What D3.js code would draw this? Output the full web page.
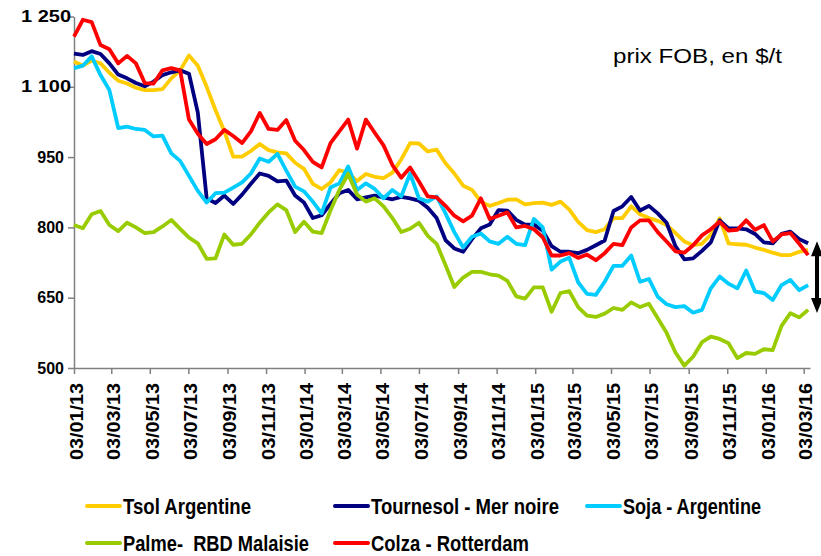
<!DOCTYPE html>
<meta charset="utf-8">
<script src="https://cdn.jsdelivr.net/npm/d3@7"></script>
<style>
body { margin: 0; background: #fff; }
svg { display: block; }
text { font-family: "Liberation Sans", Arial, sans-serif; fill: #000; }
.axis path, .axis line { stroke: #808080; stroke-width: 1.5px; }
.axis text { font-weight: bold; }
path.serie { fill: none; stroke-width: 3.8px; stroke-linejoin: round; }
.legend text { font-weight: bold; font-size: 22px; }
</style>
<body>
<script>

// date of the first point, then one point every 2 weeks
var startDate = "03/01/13";
var stepDays = 14;

var tickLabels = ["03/01/13","03/03/13","03/05/13","03/07/13","03/09/13","03/11/13",
                  "03/01/14","03/03/14","03/05/14","03/07/14","03/09/14","03/11/14",
                  "03/01/15","03/03/15","03/05/15","03/07/15","03/09/15","03/11/15",
                  "03/01/16","03/03/16"];
var yTicks = [500, 650, 800, 950, 1100, 1250];

var tsol = [1154,1145,1156,1150,1130,1113,1107,1098,1093,1093,
            1095,1118,1135,1167,1145,1100,1050,1005,951,951,
            963,978,965,960,958,938,925,893,882,896,
            922,917,899,914,908,905,917,945,980,979,
            962,966,937,915,889,880,855,846,852,859,
            860,849,852,853,848,855,838,812,794,790,
            796,820,820,845,828,820,814,805,788,770,
            762,765,785,819,766,764,763,757,752,746,
            741,741,748,752];

var tournesol = [1171,1168,1176,1170,1150,1126,1118,1108,1101,1111,
                 1125,1131,1135,1128,1045,862,852,868,850,870,
                 893,915,910,898,900,868,853,820,826,850,
                 873,880,860,864,868,864,860,865,862,857,
                 842,820,773,755,748,775,798,806,837,836,
                 816,806,806,793,760,748,748,745,752,762,
                 772,835,845,865,836,846,830,810,760,732,
                 734,750,768,815,798,798,796,786,768,766,
                 786,791,775,766];

var soja = [1140,1145,1165,1125,1093,1012,1015,1010,1008,994,
            996,958,942,910,878,853,873,874,885,896,
            915,947,940,957,921,887,877,855,830,885,
            894,930,880,894,882,862,880,866,915,862,
            855,866,830,790,757,780,787,770,765,780,
            765,762,818,800,710,727,735,683,658,656,
            684,718,718,740,684,690,652,636,630,632,
            618,624,670,695,680,670,708,663,660,645,
            677,688,666,677];

var palme = [805,798,828,835,805,792,810,800,788,790,
             802,816,797,778,766,733,734,785,763,765,
             785,810,832,849,837,790,812,791,788,836,
             880,914,870,855,862,845,820,790,797,810,
             782,765,720,673,693,705,705,700,697,686,
             653,648,672,672,620,660,664,630,612,609,
             616,628,624,640,630,637,606,575,533,505,
             524,555,567,562,553,521,532,530,540,538,
             590,617,608,624];

var colza = [1207,1243,1238,1189,1180,1150,1166,1150,1108,1107,
             1135,1140,1135,1030,1000,978,988,1008,995,980,
             1005,1044,1010,1008,1029,985,965,940,928,980,
             1005,1030,968,1030,1002,975,933,906,928,898,
             866,864,846,825,813,825,862,818,825,832,
             800,803,796,779,740,740,745,735,742,730,
             745,765,762,800,815,815,790,770,749,746,
             762,783,796,812,793,795,815,795,805,770,
             785,788,765,741];

var seriesNames = ["Tsol Argentine", "Tournesol - Mer noire", "Soja - Argentine",
                   "Palme-\u00a0 RBD Malaisie", "Colza - Rotterdam"];
var seriesColors = ["#FFCC00", "#000080", "#00CCFF", "#99CC00", "#FF0000"];
var seriesValues = [tsol, tournesol, soja, palme, colza];

var width = 821,
    height = 556;

var parseDate = d3.timeParse("%d/%m/%y");
var t0 = parseDate(startDate);
var dates = tsol.map(function(d, i) { return d3.timeDay.offset(t0, i * stepDays); });

var x = d3.scaleTime()
    .domain([t0, d3.timeDay.offset(parseDate(tickLabels[tickLabels.length - 1]), 10)])
    .range([74, 810]);

var y = d3.scaleLinear()
    .domain([500, 1250])
    .range([368, 16.5]);

var svg = d3.select("body").append("svg")
    .attr("width", width)
    .attr("height", height);

// axes
var yAxis = svg.append("g")
    .attr("class", "axis")
    .attr("transform", "translate(74,0)")
    .call(d3.axisLeft(y)
        .tickValues(yTicks)
        .tickSize(6)
        .tickSizeOuter(0)
        .tickFormat(function(d) {
          return d >= 1000 ? Math.floor(d / 1000) + "\u00a0" + d3.format("03d")(d % 1000) : d;
        }));
yAxis.selectAll("text")
    .style("font-size", "16px")
    .attr("x", -10);
yAxis.selectAll("text").filter(function(d) { return d >= 1000; })
    .attr("x", -3)
    .attr("textLength", 50)
    .attr("lengthAdjust", "spacingAndGlyphs");

var xAxis = svg.append("g")
    .attr("class", "axis")
    .attr("transform", "translate(0,368)")
    .call(d3.axisBottom(x)
        .tickValues(tickLabels.map(parseDate))
        .tickSize(6)
        .tickSizeOuter(0)
        .tickFormat(d3.timeFormat("%d/%m/%y")));
xAxis.selectAll("text")
    .style("font-size", "18px")
    .attr("transform", "rotate(-90)")
    .attr("text-anchor", "end")
    .attr("x", -15)
    .attr("y", 2)
    .attr("dy", "0.35em")
    .attr("textLength", 77)
    .attr("lengthAdjust", "spacingAndGlyphs");

// lines
var line = d3.line()
    .x(function(d, i) { return x(dates[i]); })
    .y(function(d) { return y(d); });

svg.append("g")
    .selectAll("path")
    .data(seriesValues)
    .enter()
    .append("path")
    .attr("class", "serie")
    .style("stroke", function(d, i) { return seriesColors[i]; })
    .attr("d", line);

// text top right
svg.append("text")
    .attr("x", 613)
    .attr("y", 63)
    .style("font-size", "21px")
    .attr("textLength", 169)
    .attr("lengthAdjust", "spacingAndGlyphs")
    .text("prix FOB, en $/t");

// double arrow : gap between black sea sunflower and palm at the last date
var ax = 817,
    aTop = y(tournesol[tournesol.length - 1]) - 2,
    aBot = y(palme[palme.length - 1]) + 3;
svg.append("line")
    .attr("x1", ax).attr("x2", ax)
    .attr("y1", aTop + 10).attr("y2", aBot - 10)
    .style("stroke", "#000")
    .style("stroke-width", 4);
svg.append("path")
    .attr("d", "M" + ax + "," + aTop + "L" + (ax + 6) + "," + (aTop + 15) + "L" + (ax - 6) + "," + (aTop + 15) + "Z" +
               "M" + ax + "," + aBot + "L" + (ax + 6) + "," + (aBot - 15) + "L" + (ax - 6) + "," + (aBot - 15) + "Z")
    .style("fill", "#000");

// legend
var legendCols = [87, 335, 587],
    legendRows = [506, 543],
    legendWidths = [128, 188, 138, 186, 158];

var legend = svg.append("g")
    .attr("class", "legend")
    .selectAll("g")
    .data(seriesNames)
    .enter()
    .append("g")
    .attr("transform", function(d, i) {
      return "translate(" + legendCols[i % 3] + "," + legendRows[Math.floor(i / 3)] + ")";
    });

legend.append("line")
    .attr("x1", 0).attr("x2", 33)
    .attr("y1", 0).attr("y2", 0)
    .style("stroke", function(d, i) { return seriesColors[i]; })
    .style("stroke-width", 4)
    .style("stroke-linecap", "round");

legend.append("text")
    .attr("x", 36)
    .attr("y", 8)
    .attr("textLength", function(d, i) { return legendWidths[i]; })
    .attr("lengthAdjust", "spacingAndGlyphs")
    .text(function(d) { return d; });

</script>
</body>
